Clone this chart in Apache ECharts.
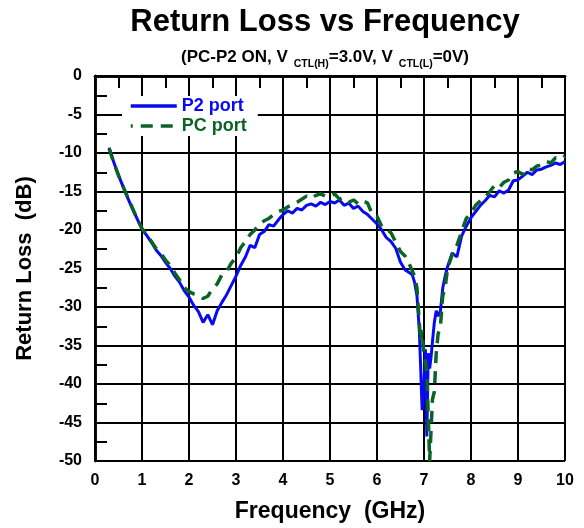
<!DOCTYPE html>
<html>
<head>
<meta charset="utf-8">
<script src="https://cdn.jsdelivr.net/npm/echarts@6/dist/echarts.min.js"></script>
<style>
  html, body { margin: 0; padding: 0; background: #fff; }
  #chart { width: 584px; height: 528px; }
</style>
</head>
<body>
<div id="chart"></div>
<script>
// frequency points (GHz), shared by both traces
const freq = [
  0.3, 0.4, 0.5, 0.6, 0.7, 0.8, 0.9, 1.0, 1.1, 1.2, 1.3, 1.4, 1.5, 1.6, 1.7, 1.8, 1.9,
  2.0, 2.1, 2.2, 2.3, 2.4, 2.5, 2.6, 2.7, 2.8, 2.9, 3.0, 3.1, 3.2, 3.3, 3.4, 3.5, 3.6, 3.7, 3.8, 3.9,
  4.0, 4.1, 4.2, 4.3, 4.4, 4.5, 4.6, 4.7, 4.8, 4.9, 5.0, 5.1, 5.2, 5.3, 5.4, 5.5, 5.6, 5.7, 5.8, 5.9,
  6.0, 6.1, 6.2, 6.3, 6.4, 6.5, 6.6, 6.7, 6.75, 6.8, 6.85, 6.9, 6.93, 6.96, 7.0, 7.03, 7.06, 7.09,
  7.12, 7.15, 7.18, 7.22, 7.26, 7.3, 7.35, 7.4, 7.45, 7.5, 7.6, 7.7, 7.8, 7.9,
  8.0, 8.1, 8.2, 8.3, 8.4, 8.5, 8.6, 8.7, 8.8, 8.9, 9.0, 9.1, 9.2, 9.3, 9.4, 9.5, 9.6, 9.7, 9.8, 9.9, 10.0
]

// return loss (dB)
const p2Port = [
  -9.3, -11.2, -12.9, -14.4, -15.9, -17.3, -18.6, -19.9, -20.7, -21.6, -22.6, -23.3, -24.2, -25.0, -26.0, -26.8, -27.9,
  -28.7, -29.8, -30.6, -32.0, -31.0, -32.3, -30.5, -29.4, -28.4, -27.2, -26.0, -24.6, -23.5, -22.0, -22.3, -20.6, -20.2, -19.3, -19.5, -18.7,
  -18.0, -17.5, -17.8, -17.2, -17.4, -16.8, -16.6, -16.9, -16.4, -16.7, -16.3, -16.5, -16.1, -16.8, -16.5, -17.2, -16.9, -17.6, -18.0, -18.6,
  -19.2, -20.0, -21.0, -21.5, -22.4, -24.2, -25.2, -25.6, -25.8, -26.8, -28.5, -33.0, -38.0, -43.4, -40.0, -35.5, -46.8, -36.0,
  -38.0, -36.5, -34.5, -32.0, -30.5, -31.2, -30.5, -27.5, -26.0, -24.8, -23.0, -23.5, -20.8, -19.5,
  -18.4, -17.6, -16.8, -16.2, -15.5, -15.7, -14.9, -15.2, -14.8, -13.6, -13.5, -13.0, -12.5, -12.8, -12.2, -12.1, -11.8, -11.6, -11.3, -11.5, -11.1
]

const pcPort = [
  -9.4, -11.3, -12.9, -14.4, -15.8, -17.2, -18.6, -19.8, -20.6, -21.5, -22.4, -23.0, -23.9, -24.6, -25.6, -26.5, -27.5,
  -28.0, -28.3, -28.5, -28.9, -28.6, -27.6, -27.0, -25.8, -25.4, -24.3, -23.6, -22.3, -21.5, -20.6, -20.0, -19.3, -18.8, -18.5, -18.0, -17.6,
  -17.4, -17.0, -16.7, -16.4, -16.0, -15.6, -15.9, -15.5, -15.3, -15.6, -15.6, -15.3, -16.0, -15.8, -16.4, -16.1, -16.6, -16.2, -16.5, -18.0,
  -18.2, -19.5, -19.8, -20.4, -21.6, -22.8, -23.4, -24.6, -25.3, -26.0, -27.5, -32.0, -34.5, -33.0, -36.5, -37.0, -38.5, -44.0,
  -50.0, -46.0, -42.0, -41.0, -36.0, -33.5, -32.5, -28.5, -27.5, -25.0, -23.2, -22.0, -20.2, -18.5,
  -17.8, -16.8, -16.2, -15.8, -15.0, -14.2, -14.5, -13.8, -13.5, -12.6, -12.4, -12.8, -12.0, -12.2, -11.7, -11.6, -11.1, -11.3, -10.6, -10.8, -10.4
]

const FONT = 'Arial, "Liberation Sans", sans-serif'
const blue = '#0a0af0'
const green = '#0b6426'

const chart = echarts.init(document.getElementById('chart'))

// frame axes: line only
const frame = (pos) => ({
  position: pos,
  axisLine: { show: true, lineStyle: { color: '#000', width: 2.5 } },
  axisTick: { show: false },
  axisLabel: { show: false },
  splitLine: { show: false },
})
// tick-only axes pulled 6px into the plot so ticks point inward
const ticks = (pos) => ({
  position: pos,
  offset: -6,
  axisLine: { show: false },
  axisTick: { show: true, length: 6, lineStyle: { color: '#000', width: 2 } },
  minorTick: { show: true, splitNumber: 2, length: 6, lineStyle: { color: '#000', width: 2 } },
  axisLabel: { show: false },
  splitLine: { show: false },
})
const xRange = { type: 'value', min: 0, max: 10, interval: 1 }
const yRange = { type: 'value', min: -50, max: 0, interval: 5 }

chart.setOption({
  animation: false,
  backgroundColor: '#fff',
  title: {
    text: 'Return Loss vs Frequency',
    subtext: '(PC-P2 ON, V{s|CTL(H)}=3.0V, V{s|CTL(L)}=0V)',
    left: 320,
    top: 2,
    textAlign: 'center',
    itemGap: 6,
    textStyle: { fontFamily: FONT, fontSize: 31, fontWeight: 'bold', color: '#000' },
    subtextStyle: {
      fontFamily: FONT, fontSize: 17, fontWeight: 'bold', color: '#000',
      rich: {
        s: { fontFamily: FONT, fontSize: 10.5, fontWeight: 'bold', color: '#000', padding: [15, 0, 0, 6] },
      },
    },
  },
  legend: {
    orient: 'vertical',
    left: 122,
    top: 96,
    itemWidth: 46,
    itemHeight: 14,
    itemGap: 2,
    padding: [1, 11, 1, 7],
    backgroundColor: '#fff',
    itemStyle: { opacity: 0 },
    lineStyle: { width: 3.5, dashOffset: 10 },
    data: [
      { name: 'P2 port', textStyle: { color: blue } },
      { name: 'PC port', textStyle: { color: green } },
    ],
    textStyle: { fontFamily: FONT, fontSize: 18, fontWeight: 'bold' },
  },
  grid: { left: 95, right: 19, top: 76, bottom: 63 },
  xAxis: [
    {
      ...xRange,
      ...frame('bottom'),
      splitLine: { show: true, lineStyle: { color: '#000', width: 2 } },
      axisLabel: { show: true, fontFamily: FONT, fontSize: 16, fontWeight: 'bold', color: '#000', margin: 12 },
      name: 'Frequency  (GHz)',
      nameLocation: 'middle',
      nameGap: 39,
      nameTextStyle: { fontFamily: FONT, fontSize: 23, fontWeight: 'bold', color: '#000' },
    },
    { ...xRange, ...frame('top') },
    { ...xRange, ...ticks('bottom') },
    { ...xRange, ...ticks('top') },
  ],
  yAxis: [
    {
      ...yRange,
      ...frame('left'),
      splitLine: { show: true, lineStyle: { color: '#000', width: 2 } },
      axisLabel: { show: true, fontFamily: FONT, fontSize: 16, fontWeight: 'bold', color: '#000', margin: 13 },
      name: 'Return Loss  (dB)',
      nameLocation: 'middle',
      nameGap: 59,
      nameRotate: 90,
      nameTextStyle: { fontFamily: FONT, fontSize: 22, fontWeight: 'bold', color: '#000' },
    },
    { ...yRange, ...frame('right') },
    { ...yRange, ...ticks('left') },
    { ...yRange, ...ticks('right') },
  ],
  series: [
    {
      name: 'P2 port',
      type: 'line',
      data: freq.map((f, i) => [f, p2Port[i]]),
      symbol: 'none',
      lineStyle: { color: blue, width: 3 },
      itemStyle: { color: blue },
      z: 3,
    },
    {
      name: 'PC port',
      type: 'line',
      data: freq.map((f, i) => [f, pcPort[i]]),
      symbol: 'none',
      lineStyle: { color: green, width: 3.5, type: [12, 8] },
      itemStyle: { color: green },
      z: 4,
    },
  ],
})
</script>
</body>
</html>
